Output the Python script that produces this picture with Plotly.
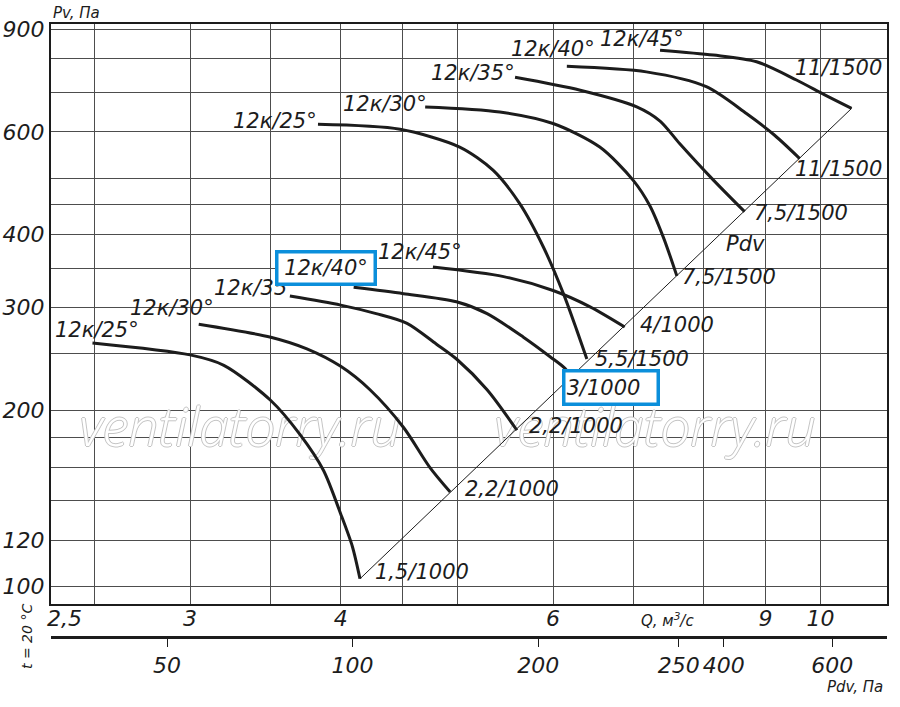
import numpy as np
import plotly.graph_objects as go

# -------------------------
# Axes
# -------------------------
q_grid = [2.5, 3, 3.5, 4, 4.5, 5, 6, 7, 8, 9, 10]
q_tick_text = ["", "3", "", "4", "", "", "6", "", "", "9", "10"]

p_grid = [100, 120, 140, 160, 180, 200, 250, 300, 350, 400, 450, 500, 600, 700, 800, 900]
p_tick_text = ["100", "120", "", "", "", "200", "", "300", "", "400", "", "", "600", "", "", "900"]

# Pdv scale under the chart (labels printed where they stand in the picture)
pdv_tick_at = [50, 100, 200, 338, 400, 600]
pdv_tick_text = ["50", "100", "200", "250", "400", "600"]

# -------------------------
# Curves, n = 1000 rpm  (Q, m3/s ; Pv, Pa)
# -------------------------
q_l25 = [2.49, 3.00, 3.20, 3.50, 3.70, 3.87, 4.00, 4.09, 4.15]
p_l25 = [261, 249, 239, 208, 182, 158, 133, 117, 103]
q_l30 = [3.05, 3.50, 3.75, 4.00, 4.23, 4.51, 4.74, 4.93]
p_l30 = [281, 267, 255, 238, 217, 187, 160, 145]
q_l35 = [3.63, 4.00, 4.28, 4.54, 4.80, 4.99, 5.29, 5.60]
p_l35 = [314, 303, 293, 282, 260, 245, 217, 185]
q_l40 = [4.10, 4.51, 4.99, 5.29, 5.67, 5.97, 6.14, 6.21]
p_l40 = [325, 317, 307, 293, 267, 247, 236, 228]
q_l45 = [4.77, 5.46, 6.00, 6.44, 6.88]
p_l45 = [352, 339, 321, 301, 278]

# -------------------------
# Curves, n = 1500 rpm
# -------------------------
q_u25 = [3.83, 4.48, 5.02, 5.35, 5.63, 5.89, 6.12, 6.28, 6.40]
p_u25 = [618, 606, 565, 516, 452, 381, 317, 274, 245]
q_u30 = [4.70, 5.42, 6.00, 6.56, 6.99, 7.22, 7.41, 7.60]
p_u30 = [662, 649, 620, 565, 496, 448, 395, 340]
q_u35 = [5.58, 6.32, 7.04, 7.36, 7.64, 8.15, 8.65]
p_u35 = [744, 707, 662, 626, 573, 496, 438]
q_u40 = [6.16, 7.17, 8.04, 8.68, 9.16, 9.61]
p_u40 = [777, 760, 717, 645, 592, 540]
q_u45 = [7.36, 8.15, 8.85, 9.55, 10.08, 10.61]
p_u45 = [828, 812, 791, 736, 694, 658]

# Pdv line (ends of the curves lie on it)
q_pdv = [4.15, 10.61]
p_pdv = [103, 658]

INK = "#1c1c1c"
GRID = "#4d4d4d"
BLUE = "#0b8fdb"
FONT = "DejaVu Sans"

fig = go.Figure()

# watermark (under the curves)
fig.add_trace(go.Scatter(
    x=[3.30, 7.29], y=[183, 183],
    mode="text", text=["ventilatorry.ru", "ventilatorry.ru"],
    textfont=dict(family="Open Sans", size=53, color="white", style="italic", weight=300,
                  shadow="1px 0 0 #c4c4c4, -1px 0 0 #c4c4c4, 0 1px 0 #c4c4c4, 0 -1px 0 #c4c4c4"),
    hoverinfo="skip",
))

fig.add_trace(go.Scatter(x=q_pdv, y=p_pdv, mode="lines",
                         line=dict(color=INK, width=1), hoverinfo="skip"))

curves = [
    (q_l25, p_l25), (q_l30, p_l30), (q_l35, p_l35), (q_l40, p_l40), (q_l45, p_l45),
    (q_u25, p_u25), (q_u30, p_u30), (q_u35, p_u35), (q_u40, p_u40), (q_u45, p_u45),
]
for q, p in curves:
    fig.add_trace(go.Scatter(x=q, y=p, mode="lines",
                             line=dict(color=INK, width=3, shape="spline", smoothing=0.8),
                             hoverinfo="skip"))

# empty trace so the Pdv axis gets drawn
fig.add_trace(go.Scatter(x=[], y=[], xaxis="x2"))

# -------------------------
# Labels on the curves
# -------------------------
labels = [
    ("12к/25°", 2.51, 275), ("12к/30°", 2.90, 299), ("12к/35°", 3.40, 324),
    ("12к/45°", 4.65, 373),
    ("5,5/1500", 7.11, 245), ("4/1000", 7.60, 280),
    ("2,2/1000", 6.27, 188), ("2,2/1000", 5.55, 147), ("1,5/1000", 4.67, 106),
    ("12к/25°", 3.53, 627), ("12к/30°", 4.35, 669), ("12к/35°", 5.15, 758),
    ("12к/40°", 6.00, 831), ("12к/45°", 7.11, 865),
    ("11/1500", 10.35, 771), ("11/1500", 10.35, 518),
    ("7,5/1500", 9.63, 436), ("Pdv", 8.67, 385), ("7,5/1500", 8.39, 339),
]
lab_font = dict(family=FONT, size=21, color=INK, style="italic")

ann = []
for txt, q, p in labels:
    ann.append(dict(text=txt, x=np.log10(q), y=np.log10(p), xref="x", yref="y",
                    showarrow=False, font=lab_font))

# the two framed labels
ann.append(dict(text="12к/40°", x=np.log10(3.89), y=np.log10(351), xref="x", yref="y",
                showarrow=False, font=lab_font, bgcolor="white",
                bordercolor=BLUE, borderwidth=3.5, borderpad=1, width=93, height=27))
ann.append(dict(text="3/1000", x=np.log10(6.70), y=np.log10(219), xref="x", yref="y",
                showarrow=False, font=lab_font, bgcolor="white", align="left",
                bordercolor=BLUE, borderwidth=3.5, borderpad=1, width=89, height=28))

small = dict(family=FONT, size=15, color=INK, style="italic")
mid = dict(xanchor="center", yanchor="middle", showarrow=False)
ann += [
    dict(text="2,5", x=np.log10(2.5), xshift=-30, y=0.0305, xref="x", yref="paper",
         font=dict(family=FONT, size=22, color=INK, style="italic"), **mid),
    dict(text="Pv, Па", x=0.031, y=1.0185, xref="paper", yref="paper", font=small, **mid),
    dict(text="Q, м<sup>3</sup>/с", x=0.738, y=0.0273, xref="paper", yref="paper",
         font=small, **mid),
    dict(text="Pdv, Па", x=0.9617, y=-0.082, xref="paper", yref="paper", font=small, **mid),
    dict(text="t = 20 °C", x=-0.0287, y=0.0, xref="paper", yref="paper", textangle=-90,
         font=dict(family=FONT, size=14, color=INK, style="italic"), **mid),
]

tick_font = dict(family=FONT, size=22, color=INK, style="italic")

fig.update_layout(
    width=900, height=707,
    margin=dict(l=51, r=13, t=24, b=70),
    plot_bgcolor="white", paper_bgcolor="white",
    showlegend=False,
    font=dict(family=FONT, color=INK),
    annotations=ann,
    xaxis=dict(
        type="log", range=[0.3618, 1.0551], automargin=False,
        tickvals=q_grid, ticktext=q_tick_text, ticks="", ticklabelstandoff=-7,
        tickfont=tick_font,
        showgrid=True, gridcolor=GRID, gridwidth=1,
        showline=True, linecolor=INK, linewidth=2, mirror=True,
        zeroline=False, anchor="y",
    ),
    xaxis2=dict(
        type="log", range=[1.5108, 2.8669], automargin=False,
        overlaying="x", anchor="free", position=0, side="bottom",
        tickvals=pdv_tick_at, ticktext=pdv_tick_text,
        ticks="outside", ticklen=8, tickwidth=1, tickcolor=INK,
        tickfont=tick_font,
        showgrid=False, showline=True, linecolor=INK, linewidth=2.5,
        zeroline=False,
    ),
    yaxis=dict(
        type="log", range=[1.9692, 2.9628], domain=[0.0534, 1], automargin=False,
        tickvals=p_grid, ticktext=p_tick_text, ticks="",
        tickfont=tick_font,
        showgrid=True, gridcolor=GRID, gridwidth=1,
        showline=True, linecolor=INK, linewidth=2, mirror=True,
        zeroline=False,
    ),
)

# drop the browser's default 8 px body margin so the figure fills the window
fig.write_html("out.html", config={"displayModeBar": False},
               post_script="document.body.style.margin = '0';")
